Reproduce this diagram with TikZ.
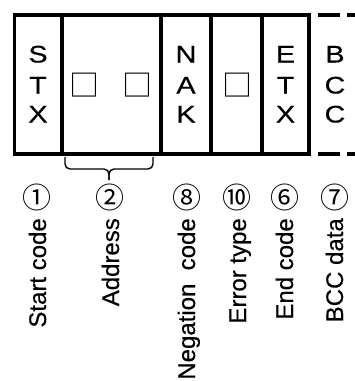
\documentclass[tikz,border=0pt]{standalone}
\usepackage{fontspec}
\setmainfont{Liberation Sans}
\newfontfamily\cjkfont{Noto Sans CJK JP}
\newfontfamily\widefont[FakeBold=0.5,FakeStretch=1.2]{Liberation Sans}
\newfontfamily\heavyfont[FakeBold=0.4]{Liberation Sans}
\begin{document}
\begin{tikzpicture}[x=1pt,y=-1pt,
  frameline/.style={line width=4pt},
  thinframe/.style={line width=3pt},
  dashline/.style={line width=4pt, dash pattern=on 22pt off 7pt},
  boxletter/.style={font=\widefont\fontsize{24}{24}\selectfont, anchor=base, inner sep=0pt},
  sqglyph/.style={font=\cjkfont\fontsize{30}{30}\selectfont, inner sep=0pt},
  circnum/.style={font=\cjkfont\fontsize{29}{29}\selectfont, inner sep=0pt},
  vlab/.style={font=\heavyfont\fontsize{24}{24}\selectfont, rotate=90, anchor=base east, inner sep=0pt},
  bracepart/.style={line width=1.4pt, rounded corners=5pt}]
\useasboundingbox (0,0) rectangle (355,381);
% frame
\draw[thinframe] (14.5,12.5) -- (14.5,156);
\draw[frameline] (13,14.5) -- (311,14.5);
\draw[frameline] (13,154) -- (311,154);
\foreach \xx in {62,161,211,262,309} \draw[frameline] (\xx,12.5) -- (\xx,156);
% dashed continuation
\coordinate (dt1) at (318,14.5); \coordinate (dt2) at (356,14.5);
\coordinate (db1) at (318,154); \coordinate (db2) at (356,154);
\draw[dashline] (dt1) -- (dt2);
\draw[dashline] (db1) -- (db2);
% box letters
\node[boxletter] (s1) at (38,62.5) {S};
\node[boxletter] (s2) at (38,93.5) {T};
\node[boxletter] (s3) at (38,122.5) {X};
\node[boxletter] (n1) at (186,62.5) {N};
\node[boxletter] (n2) at (186,93.5) {A};
\node[boxletter] (n3) at (186,122.5) {K};
\node[boxletter] (e1) at (285.5,62.5) {E};
\node[boxletter] (e2) at (285.5,93.5) {T};
\node[boxletter] (e3) at (285.5,122.5) {X};
\node[boxletter] (b1) at (335,62.5) {B};
\node[boxletter] (b2) at (335,93.5) {C};
\node[boxletter] (b3) at (335,122.5) {C};
\node[sqglyph] (q1) at (85,85) {□};
\node[sqglyph] (q2) at (137,85) {□};
\node[sqglyph] (q3) at (237,85) {□};
% brace
\coordinate (brl) at (65,157); \coordinate (brr) at (153,157);
\coordinate (brm) at (109,169); \coordinate (brt) at (109,180);
\draw[bracepart] (brl) -- (brl |- brm) -- (brm) -- (brt);
\draw[bracepart] (brr) -- (brr |- brm) -- (brm) -- (brt);
% circled numbers
\node[circnum] (c1) at (37,197) {①};
\node[circnum] (c2) at (110,197) {②};
\node[circnum] (c8) at (187,197) {⑧};
\node[circnum] (c10) at (237,197) {⑩};
\node[circnum] (c6) at (285,197) {⑥};
\node[circnum] (c7) at (335,197) {⑦};
% vertical labels
\node[vlab] (l1) at (46,218) {Start code};
\node[vlab] (l2) at (119,218) {Address};
\node[vlab] (l8) at (195,218) {Negation\ \ code};
\node[vlab] (l10) at (246,218) {Error type};
\node[vlab] (l6) at (293,218) {End code};
\node[vlab] (l7) at (343,218) {BCC data};
\end{tikzpicture}
\end{document}
